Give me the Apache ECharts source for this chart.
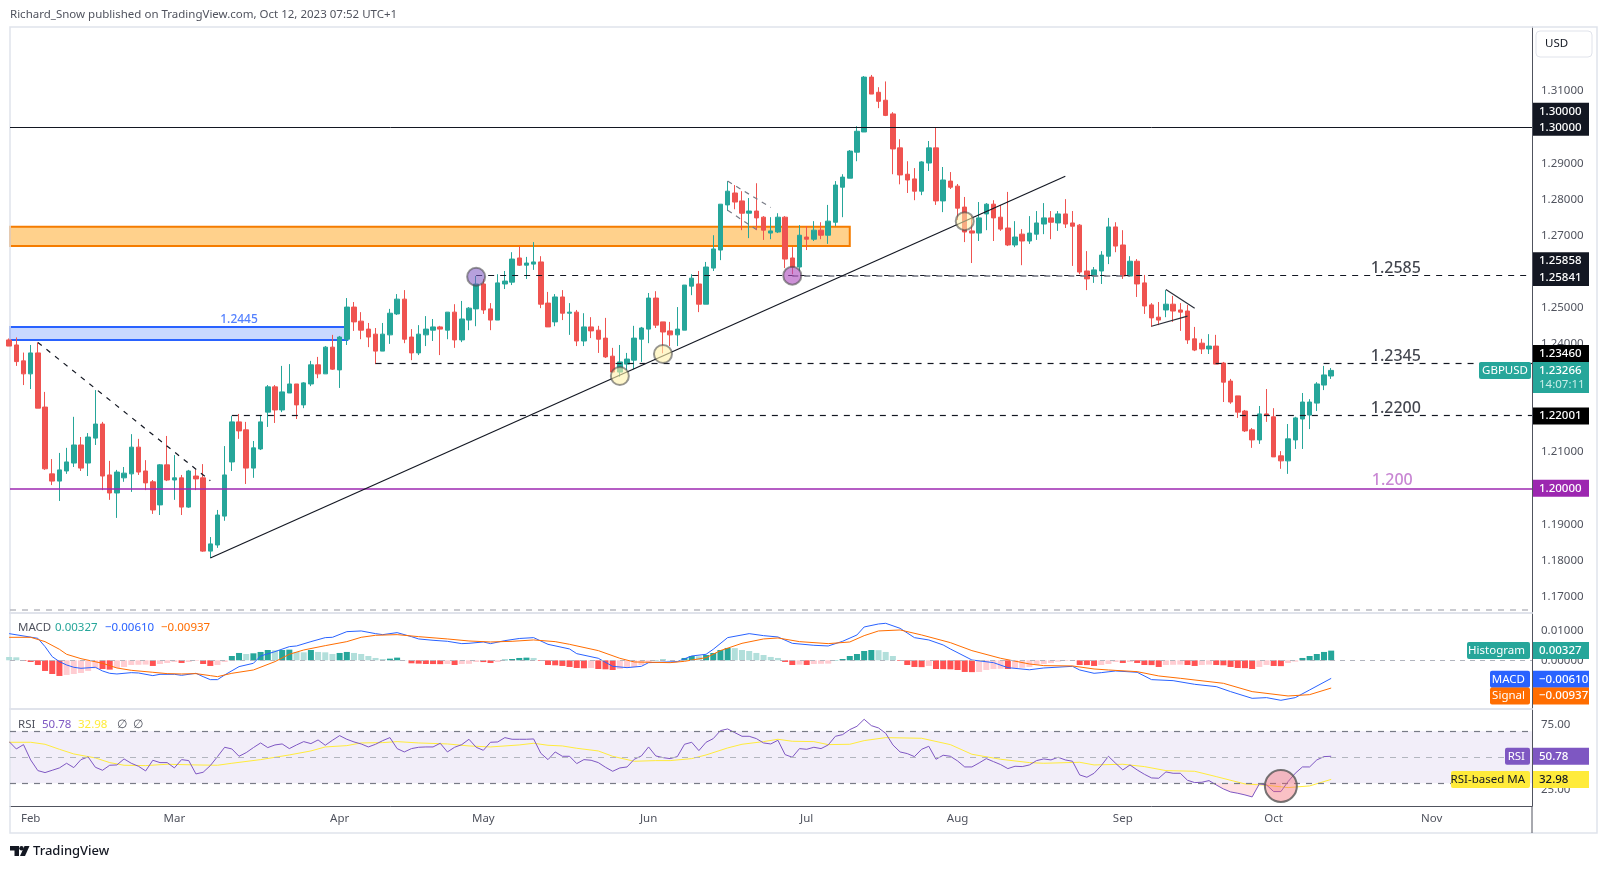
<!DOCTYPE html>
<html>
<head>
<meta charset="utf-8">
<title>GBPUSD</title>
<script src="https://cdn.jsdelivr.net/npm/echarts@6/dist/echarts.min.js"></script>
<style>
    html, body { margin: 0; padding: 0; background: #fff; }
    #chart { width: 1608px; height: 869px; }
</style>
</head>
<body>
<div id="chart"></div>
<script>
// ---- candles, bar 0 is the one cut off by the left edge ----
const opens = [1.2411,
    1.2397,1.2353,1.2317,1.2375,1.2225,1.2040,1.2020,1.2048,1.2070,1.2120,
    1.2070,1.2139,1.2178,1.2037,1.1987,1.2029,1.2040,1.2114,1.2048,1.2018,
    1.1954,1.2065,1.2023,1.2029,1.1948,1.2034,1.2029,1.1826,1.1843,1.1923,
    1.2073,1.2184,1.2162,1.2056,1.2109,1.2211,1.2281,1.2217,1.2264,1.2289,
    1.2231,1.2289,1.2342,1.2317,1.2391,1.2328,1.2413,1.2502,1.2463,1.2441,
    1.2427,1.2380,1.2425,1.2483,1.2524,1.2419,1.2375,1.2425,1.2438,1.2447,
    1.2438,1.2488,1.2411,1.2466,1.2497,1.2566,1.2497,1.2466,1.2566,1.2571,
    1.2638,1.2618,1.2621,1.2627,1.2513,1.2461,1.2530,1.2485,1.2488,1.2408,
    1.2447,1.2438,1.2416,1.2366,1.2322,1.2344,1.2355,1.2413,1.2441,1.2527,
    1.2461,1.2436,1.2425,1.2438,1.2560,1.2566,1.2510,1.2610,1.2660,1.2785,
    1.2818,1.2796,1.2762,1.2768,1.2751,1.2707,1.2710,1.2751,1.2638,1.2613,
    1.2696,1.2690,1.2715,1.2701,1.2737,1.2834,1.2859,1.2931,1.2987,1.3139,
    1.3097,1.3075,1.3037,1.2943,1.2870,1.2857,1.2823,1.2901,1.2943,1.2796,
    1.2851,1.2837,1.2779,1.2713,1.2707,1.2760,1.2787,1.2751,1.2721,1.2674,
    1.2704,1.2685,1.2704,1.2732,1.2749,1.2735,1.2760,1.2735,1.2729,1.2602,
    1.2588,1.2602,1.2643,1.2724,1.2674,1.2588,1.2629,1.2569,1.2508,1.2474,
    1.2494,1.2510,1.2494,1.2491,1.2414,1.2402,1.2386,1.2394,1.2347,1.2297,
    1.2256,1.2214,1.2162,1.2134,1.2206,1.2198,1.2090,1.2076,1.2134,1.2192,
    1.2203,1.2236,1.2286,1.2311];
const closes = [1.2394,
    1.2351,1.2317,1.2375,1.2222,1.2054,1.2020,1.2051,1.2073,1.2120,1.2056,
    1.2142,1.2178,1.2034,1.1987,1.2045,1.2042,1.2114,1.2045,1.2015,1.1940,
    1.2065,1.2023,1.2029,1.1948,1.2048,1.2026,1.1826,1.1846,1.1926,1.2037,
    1.2184,1.2159,1.2056,1.2112,1.2184,1.2281,1.2217,1.2267,1.2289,1.2231,
    1.2292,1.2342,1.2317,1.2391,1.2330,1.2419,1.2502,1.2461,1.2438,1.2419,
    1.2380,1.2427,1.2485,1.2524,1.2413,1.2375,1.2427,1.2441,1.2447,1.2441,
    1.2488,1.2411,1.2469,1.2499,1.2566,1.2494,1.2466,1.2569,1.2574,1.2635,
    1.2618,1.2624,1.2627,1.2510,1.2447,1.2530,1.2485,1.2488,1.2408,1.2447,
    1.2436,1.2413,1.2364,1.2322,1.2350,1.2358,1.2416,1.2444,1.2527,1.2452,
    1.2433,1.2425,1.2441,1.2563,1.2582,1.2510,1.2613,1.2663,1.2787,1.2823,
    1.2793,1.2762,1.2768,1.2749,1.2715,1.2713,1.2751,1.2635,1.2613,1.2701,
    1.2690,1.2715,1.2701,1.2740,1.2840,1.2862,1.2934,1.2989,1.3139,1.3092,
    1.3072,1.3033,1.2940,1.2868,1.2854,1.2823,1.2904,1.2943,1.2796,1.2854,
    1.2834,1.2776,1.2710,1.2707,1.2749,1.2787,1.2749,1.2718,1.2674,1.2696,
    1.2685,1.2707,1.2735,1.2749,1.2737,1.2760,1.2732,1.2726,1.2599,1.2580,
    1.2605,1.2646,1.2724,1.2671,1.2588,1.2629,1.2566,1.2505,1.2472,1.2466,
    1.2510,1.2491,1.2488,1.2411,1.2383,1.2386,1.2394,1.2344,1.2294,1.2239,
    1.2211,1.2159,1.2134,1.2206,1.2203,1.2087,1.2076,1.2137,1.2195,1.2239,
    1.2239,1.2289,1.2314,1.23266];
const highs = [1.2415,
    1.2418,1.2376,1.2397,1.2404,1.2267,1.2081,1.2098,1.2112,1.2198,1.2142,
    1.2153,1.2272,1.2184,1.2076,1.2051,1.2059,1.2150,1.2137,1.2078,1.2023,
    1.2067,1.2145,1.2092,1.2037,1.2051,1.2051,1.2067,1.1865,1.1940,1.2117,
    1.2200,1.2206,1.2184,1.2131,1.2203,1.2286,1.2286,1.2339,1.2344,1.2289,
    1.2294,1.2353,1.2364,1.2394,1.2425,1.2422,1.2527,1.2516,1.2488,1.2458,
    1.2444,1.2458,1.2497,1.2538,1.2549,1.2441,1.2452,1.2477,1.2469,1.2450,
    1.2488,1.2510,1.2519,1.2502,1.2588,1.2580,1.2513,1.2593,1.2602,1.2654,
    1.2671,1.2641,1.2682,1.2643,1.2544,1.2538,1.2549,1.2513,1.2494,1.2485,
    1.2474,1.2450,1.2472,1.2389,1.2397,1.2375,1.2450,1.2447,1.2541,1.2546,
    1.2461,1.2461,1.2502,1.2563,1.2593,1.2602,1.2627,1.2701,1.2787,1.2851,
    1.2840,1.2823,1.2804,1.2845,1.2754,1.2751,1.2762,1.2754,1.2668,1.2729,
    1.2726,1.2740,1.2737,1.2785,1.2851,1.2870,1.2937,1.3003,1.3142,1.3145,
    1.3111,1.3127,1.3042,1.2967,1.2906,1.2887,1.2906,1.2962,1.2998,1.2890,
    1.2876,1.2843,1.2807,1.2754,1.2793,1.2790,1.2798,1.2785,1.2821,1.2740,
    1.2718,1.2754,1.2768,1.2790,1.2768,1.2768,1.2801,1.2768,1.2732,1.2657,
    1.2613,1.2657,1.2749,1.2737,1.2715,1.2643,1.2635,1.2591,1.2513,1.2516,
    1.2549,1.2533,1.2513,1.2508,1.2447,1.2414,1.2427,1.2425,1.2350,1.2303,
    1.2256,1.2217,1.2167,1.2228,1.2275,1.2222,1.2103,1.2178,1.2198,1.2264,
    1.2247,1.2294,1.2339,1.2333];
const lows = [1.2394,
    1.2339,1.2286,1.2275,1.2222,1.2051,1.2009,1.1965,1.2040,1.2059,1.2048,
    1.2034,1.2120,1.1995,1.1968,1.1918,1.2018,1.1990,1.2037,1.1995,1.1929,
    1.1926,1.2020,1.1968,1.1926,1.1946,1.1995,1.1824,1.1807,1.1835,1.1910,
    1.2048,1.2137,1.2012,1.2029,1.2106,1.2170,1.2181,1.2211,1.2264,1.2192,
    1.2222,1.2283,1.2305,1.2317,1.2328,1.2278,1.2397,1.2436,1.2413,1.2391,
    1.2344,1.2380,1.2400,1.2480,1.2402,1.2355,1.2369,1.2394,1.2408,1.2369,
    1.2413,1.2389,1.2405,1.2438,1.2449,1.2483,1.2438,1.2466,1.2552,1.2563,
    1.2616,1.2580,1.2605,1.2499,1.2447,1.2449,1.2466,1.2425,1.2394,1.2394,
    1.2416,1.2375,1.2361,1.2322,1.2309,1.2328,1.2330,1.2350,1.2402,1.2444,
    1.2374,1.2394,1.2394,1.2438,1.2535,1.2488,1.2510,1.2602,1.2632,1.2768,
    1.2773,1.2715,1.2693,1.2715,1.2688,1.2690,1.2707,1.2610,1.2593,1.2602,
    1.2660,1.2685,1.2690,1.2677,1.2726,1.2751,1.2859,1.2906,1.2987,1.3092,
    1.3053,1.3031,1.2870,1.2842,1.2818,1.2798,1.2812,1.2879,1.2785,1.2765,
    1.2829,1.2743,1.2682,1.2624,1.2685,1.2715,1.2685,1.2713,1.2671,1.2668,
    1.2618,1.2677,1.2688,1.2704,1.2690,1.2713,1.2721,1.2616,1.2593,1.2549,
    1.2569,1.2566,1.2621,1.2654,1.2580,1.2588,1.2530,1.2483,1.2447,1.2452,
    1.2474,1.2461,1.2436,1.2400,1.2380,1.2372,1.2372,1.2344,1.2239,1.2234,
    1.2195,1.2156,1.2112,1.2123,1.2184,1.2087,1.2054,1.2040,1.2109,1.2109,
    1.2164,1.2214,1.2272,1.2303];

// ---- MACD pane ----
const histogram = [0.00111,0.00101,
    -0.00023,-0.00056,-0.00158,-0.00360,-0.00462,-0.00529,-0.00495,-0.00462,-0.00428,
    -0.00360,-0.00270,-0.00293,-0.00315,-0.00259,-0.00225,-0.00158,-0.00152,-0.00146,-0.00191,
    -0.00124,-0.00090,-0.00056,-0.00090,-0.00056,-0.00023,-0.00124,-0.00191,-0.00158,-0.00056,
    0.00146,0.00248,0.00214,0.00236,0.00282,0.00349,0.00338,0.00349,0.00360,0.00282,
    0.00270,0.00349,0.00282,0.00270,0.00214,0.00248,0.00282,0.00248,0.00214,0.00146,
    0.00079,0.00045,0.00056,0.00090,0.00011,-0.00101,-0.00113,-0.00124,-0.00127,-0.00130,
    -0.00124,-0.00158,-0.00124,-0.00120,-0.00056,-0.00060,-0.00090,-0.00056,0.00023,0.00045,
    0.00079,0.00090,0.00079,-0.00023,-0.00158,-0.00169,-0.00191,-0.00225,-0.00259,-0.00270,
    -0.00259,-0.00293,-0.00304,-0.00327,-0.00293,-0.00259,-0.00225,-0.00158,-0.00090,0.00011,
    0.00023,0.00011,0.00005,0.00079,0.00146,0.00135,0.00180,0.00248,0.00349,0.00417,
    0.00411,0.00349,0.00315,0.00248,0.00180,0.00113,0.00079,-0.00056,-0.00158,-0.00146,
    -0.00158,-0.00124,-0.00118,-0.00113,0.00011,0.00045,0.00146,0.00214,0.00315,0.00349,
    0.00343,0.00282,0.00146,-0.00023,-0.00158,-0.00225,-0.00231,-0.00191,-0.00293,-0.00298,
    -0.00304,-0.00327,-0.00394,-0.00400,-0.00394,-0.00327,-0.00293,-0.00287,-0.00293,-0.00259,
    -0.00253,-0.00225,-0.00146,-0.00124,-0.00090,-0.00045,-0.00023,-0.00020,-0.00158,-0.00162,
    -0.00191,-0.00158,-0.00124,-0.00056,-0.00090,-0.00056,-0.00090,-0.00158,-0.00162,-0.00225,
    -0.00158,-0.00152,-0.00146,-0.00158,-0.00191,-0.00158,-0.00146,-0.00158,-0.00169,-0.00225,
    -0.00259,-0.00265,-0.00293,-0.00225,-0.00158,-0.00191,-0.00197,-0.00090,-0.00045,0.00079,
    0.00146,0.00214,0.00282,0.00327];

const macdBars = [0,4,5,6,7,8,9,10,12,13,14,15,17,18,20,21,23,24,26,27,28,29,30,32,34,35,37,39,40,42,44,45,47,49,51,52,54,56,57,59,61,63,64,66,67,69,71,73,75,78,79,82,84,86,88,89,93,95,97,98,100,103,105,107,109,112,114,116,118,119,121,122,124,126,128,130,131,134,137,139,142,144,148,149,151,152,154,157,159,162,165,168,170,173,175,177,179,181,184];
const macdValues = [0.00901,0.00743,0.00462,0.00124,-0.00045,-0.00158,-0.00236,-0.00270,-0.00236,-0.00360,-0.00439,-0.00462,-0.00417,-0.00428,-0.00518,-0.00473,-0.00473,-0.00507,-0.00439,-0.00552,-0.00653,-0.00653,-0.00495,-0.00214,-0.00101,0.00146,0.00293,0.00462,0.00484,0.00631,0.00766,0.00777,0.00968,0.00991,0.00901,0.00867,0.00935,0.00799,0.00721,0.00676,0.00642,0.00563,0.00574,0.00619,0.00563,0.00664,0.00737,0.00766,0.00540,0.00383,0.00225,0.00068,-0.00203,-0.00248,-0.00203,-0.00079,-0.00045,0.00146,0.00203,0.00372,0.00766,0.00901,0.00833,0.00788,0.00574,0.00507,0.00484,0.00642,0.00856,0.01126,0.01227,0.01250,0.01081,0.00766,0.00687,0.00518,0.00383,0.00011,-0.00079,-0.00248,-0.00320,-0.00259,-0.00203,-0.00327,-0.00439,-0.00417,-0.00360,-0.00405,-0.00653,-0.00687,-0.00811,-0.00890,-0.01058,-0.01284,-0.01261,-0.01351,-0.01261,-0.01002,-0.00610];
const signalBars = [0,3,5,7,8,10,13,15,17,20,22,24,26,28,29,31,34,37,39,41,44,47,49,51,54,57,61,64,67,70,73,76,78,82,85,87,92,94,97,99,102,105,107,110,114,117,119,121,124,127,131,134,138,142,144,148,151,153,157,160,163,169,173,178,181,184];
const signalValues = [0.00777,0.00777,0.00631,0.00372,0.00203,0.00056,-0.00101,-0.00259,-0.00338,-0.00405,-0.00450,-0.00462,-0.00450,-0.00518,-0.00552,-0.00439,-0.00327,-0.00045,0.00203,0.00349,0.00495,0.00631,0.00777,0.00845,0.00867,0.00799,0.00721,0.00653,0.00619,0.00642,0.00687,0.00631,0.00540,0.00327,0.00068,-0.00056,-0.00079,-0.00034,0.00090,0.00327,0.00574,0.00721,0.00754,0.00631,0.00563,0.00619,0.00833,0.00991,0.01025,0.00856,0.00597,0.00327,0.00068,-0.00124,-0.00180,-0.00191,-0.00293,-0.00327,-0.00383,-0.00529,-0.00608,-0.00777,-0.01058,-0.01205,-0.01160,-0.00937];

// ---- RSI pane ----
const rsiValues = [62.05,56.41,59.74,47.95,39.74,38.21,40.0,41.8,45.38,42.05,48.2,50.26,42.31,40.0,43.85,44.1,48.72,45.38,43.08,39.49,47.69,45.9,45.9,41.8,48.2,47.44,37.18,38.46,43.59,50.51,57.69,56.41,50.77,53.59,57.44,61.03,57.44,59.49,60.26,56.67,59.49,62.05,60.51,63.33,59.23,63.08,66.67,63.85,61.79,60.26,57.95,60.0,62.82,65.13,56.67,54.1,56.67,57.69,57.95,57.95,60.77,54.1,57.69,59.74,63.85,57.69,55.38,61.54,61.79,65.13,63.85,
    63.85,63.85,64.1,53.08,48.2,54.1,50.77,50.77,45.13,48.2,47.69,45.9,42.31,39.23,41.8,42.56,48.46,51.03,57.95,51.03,49.74,48.97,50.51,60.0,61.54,55.13,61.54,64.36,70.51,71.79,68.97,66.15,66.15,64.36,61.03,60.26,63.08,52.05,50.0,56.67,56.15,57.69,56.67,59.49,66.15,67.44,71.28,73.85,79.23,74.36,72.56,68.46,59.49,54.1,52.82,50.51,56.15,58.46,48.46,51.54,50.77,47.18,42.56,42.56,45.64,48.97,46.67,44.36,41.28,43.08,42.82,44.1,
    47.44,48.72,47.95,50.0,47.95,46.92,36.41,34.62,37.69,43.59,50.77,45.38,40.26,44.1,40.26,36.92,34.1,33.85,38.72,37.69,37.69,32.31,30.51,30.77,32.05,28.72,25.64,23.33,22.31,21.03,19.49,29.49,28.72,23.59,23.59,31.28,37.69,42.56,42.56,47.95,50.51,50.78];
const rsiMaBars = [0,3,5,7,9,12,14,16,19,22,26,29,31,35,39,42,44,47,49,52,54,57,61,64,67,71,73,75,77,79,82,84,87,90,92,95,97,100,102,105,107,109,112,114,117,119,122,127,131,134,138,142,144,149,151,155,158,161,165,168,172,175,178,181,184];
const rsiMaValues = [61.54,61.54,60,56.15,52.56,49.49,45.9,43.85,43.59,44.62,44.1,43.85,45.38,48.2,51.79,54.87,57.95,58.97,61.03,61.28,62.05,61.03,60.26,58.72,57.95,59.49,60.77,59.23,58.72,56.92,54.87,50.77,46.92,47.44,47.44,48.97,51.79,57.18,60,62.05,63.85,62.31,62.05,59.74,60,62.82,65.13,64.62,59.74,52.31,48.46,45.9,45.38,46.15,44.1,44.62,42.82,39.74,39.23,35.13,29.49,28.46,26.67,27.95,32.98];

// ---- axes ----
const monthBars = [3,23,46,66,89,111,132,155,176,198];
const monthNames = ['Feb','Mar','Apr','May','Jun','Jul','Aug','Sep','Oct','Nov'];
const priceTicks = [1.17,1.18,1.19,1.20,1.21,1.22,1.23,1.24,1.25,1.26,1.27,1.28,1.29,1.30,1.31];
const macdTicks = [0, 0.01];
const rsiTicks = [25, 75];

// ---- drawn on the chart: [bar, price] ----
const trendUp = [[28, 1.18069], [147, 1.28643]];
const trendDown = [[4, 1.2404], [28, 1.2021]];
const flagUpper = [[100, 1.2851], [106, 1.2778]];
const flagLower = [[100, 1.2770], [104, 1.2717]];
const pennantUpper = [[161, 1.2551], [165, 1.2499]];
const pennantLower = [[159, 1.2449], [164, 1.2477]];
const level2585 = [[65, 1.2589]];
const level2345 = [[51, 1.2346]];
const level2200 = [[31, 1.2202]];
const level2585Shade = [[109, 1.2589], [156, 1.2589]];
const level13000 = 1.29994;
const dottedFloor = 1.16637;
const orangeZone = [[0, 1.27247], [117, 1.26712]];
const blueZone = [[0, 1.24468], [47.07, 1.24108]];
const priceNotes = [
    { text: '1.2585', bar: 193, price: 1.2608, color: '#131722', size: 16 },
    { text: '1.2345', bar: 193, price: 1.2364, color: '#131722', size: 16 },
    { text: '1.2200', bar: 193, price: 1.2222, color: '#131722', size: 16 },
    { text: '1.200', bar: 192.5, price: 1.2023, color: '#ba68c8', size: 16 },
    { text: '1.2445', bar: 32, price: 1.2467, color: '#2962ff', size: 12 },
];
const priceCircles = [
    { bar: 65, price: 1.2586, color: 'rgba(126,87,194,0.7)' },
    { bar: 109, price: 1.2589, color: 'rgba(171,71,188,0.75)' },
    { bar: 85, price: 1.2311, color: 'rgba(255,241,170,0.75)' },
    { bar: 91, price: 1.2372, color: 'rgba(255,241,170,0.75)' },
    { bar: 133, price: 1.2740, color: 'rgba(255,241,170,0.7)' },
];
const rsiCircle = [177, 27.9];

// ---- right scale tags ----
const priceTags = [
    { value: 1.3, text: '1.30000', shift: -16, bg: '#131722' },
    { value: 1.3, text: '1.30000', shift: 0, bg: '#131722' },
    { value: 1.25858, text: '1.25858', shift: -16, bg: '#131722' },
    { value: 1.25841, text: '1.25841', shift: 0, bg: '#131722' },
    { value: 1.2346, text: '1.23460', shift: -10, bg: '#000000' },
    { value: 1.22001, text: '1.22001', shift: 0, bg: '#000000' },
    { value: 1.2, text: '1.20000', shift: 0, bg: '#9c27b0' },
];

const FONT = '"Noto Sans", sans-serif';
const SMALL = 11.5;
const GREEN = '#26a69a', RED = '#ef5350';
const AXIS_COLOR = '#50535e', FRAME = '#e0e3eb';
const plotLeft = 10, plotRight = 1532;
const xMin = 0.123, xMax = 211.95;

const pairs = (bars, vals) => bars.map((b, i) => [b, vals[i]]);
const indexed = vals => vals.map((v, i) => [i, v]);

function lineMark(from, to, color, width, type) {
    return [{ coord: from, lineStyle: { color, width, type } }, { coord: to }];
}

const hiddenX = gridIndex => ({
    type: 'value', gridIndex, min: xMin, max: xMax,
    splitLine: { show: false }, axisTick: { show: false }, axisLabel: { show: false },
    axisLine: { show: true, onZero: false, lineStyle: { color: FRAME, width: 2 } },
});

const rightY = (gridIndex, min, max, ticks, digits) => ({
    type: 'value', gridIndex, position: 'right', min, max, scale: true,
    splitLine: { show: false }, axisTick: { show: false },
    axisLine: { show: true, onZero: false, lineStyle: { color: AXIS_COLOR, width: 1 } },
    axisLabel: {
        customValues: ticks, margin: 9, color: '#50535e', fontFamily: FONT, fontSize: SMALL,
        formatter: v => v.toFixed(digits),
    },
});

const option = {
    animation: false,
    backgroundColor: '#fff',
    textStyle: { fontFamily: FONT },
    grid: [
        { left: plotLeft, width: plotRight - plotLeft, top: 27, height: 586 },
        { left: plotLeft, width: plotRight - plotLeft, top: 613, height: 96 },
        { left: plotLeft, width: plotRight - plotLeft, top: 709, height: 97 },
    ],
    xAxis: [hiddenX(0), hiddenX(1), {
        ...hiddenX(2),
        axisLine: { show: true, onZero: false, lineStyle: { color: AXIS_COLOR, width: 1 } },
        axisLabel: {
            show: true, customValues: monthBars, margin: 7, color: '#50535e', fontFamily: FONT, fontSize: SMALL,
            formatter: v => monthNames[monthBars.indexOf(v)] || '',
        },
    }],
    yAxis: [
        rightY(0, 1.16546, 1.32778, priceTicks, 5),
        rightY(1, -0.01645, 0.01598, macdTicks, 5),
        rightY(2, 12.5, 87.15, rsiTicks, 2),
    ],
    series: [
        {
            type: 'candlestick', xAxisIndex: 0, yAxisIndex: 0, barWidth: 5,
            data: opens.map((o, i) => [i, o, closes[i], lows[i], highs[i]]),
            itemStyle: { color: GREEN, color0: RED, borderColor: GREEN, borderColor0: RED, borderWidth: 1 },
            markArea: {
                silent: true,
                data: [
                    [{ coord: orangeZone[0], itemStyle: { color: 'rgba(255,152,0,0.45)', borderColor: '#f57c00', borderWidth: 2 } }, { coord: orangeZone[1] }],
                    [{ coord: blueZone[0], itemStyle: { color: 'rgba(41,98,255,0.25)', borderColor: '#2962ff', borderWidth: 2 } }, { coord: blueZone[1] }],
                ],
            },
        },
        {
            // levels and hand drawn lines
            type: 'line', xAxisIndex: 0, yAxisIndex: 0, data: [], z: 5,
            markLine: {
                silent: true, symbol: 'none', label: { show: false }, animation: false,
                data: [
                    lineMark([xMin, level13000], [xMax, level13000], '#131722', 1, 'solid'),
                    lineMark([xMin, 1.2], [xMax, 1.2], '#9c27b0', 1.5, 'solid'),
                    lineMark([xMin, dottedFloor], [xMax, dottedFloor], '#b9bbc1', 1.5, [6, 6]),
                    lineMark(level2585[0], [xMax, level2585[0][1]], '#131722', 1.2, [6, 6]),
                    lineMark(level2345[0], [xMax, level2345[0][1]], '#131722', 1.2, [6, 6]),
                    lineMark(level2200[0], [xMax, level2200[0][1]], '#131722', 1.2, [6, 6]),
                    lineMark(level2585Shade[0], level2585Shade[1], 'rgba(120,123,134,0.8)', 2, [6, 6]),
                    lineMark(trendUp[0], trendUp[1], '#131722', 1.2, 'solid'),
                    lineMark(trendDown[0], trendDown[1], '#131722', 1.2, [5, 6]),
                    lineMark(flagUpper[0], flagUpper[1], '#787b86', 1.2, [5, 5]),
                    lineMark(flagLower[0], flagLower[1], '#787b86', 1.2, [5, 5]),
                    lineMark(pennantUpper[0], pennantUpper[1], '#2a2e39', 1.2, 'solid'),
                    lineMark(pennantLower[0], pennantLower[1], '#2a2e39', 1.2, 'solid'),
                ],
            },
        },
        {
            type: 'scatter', xAxisIndex: 0, yAxisIndex: 0, symbolSize: 0, silent: true, z: 6,
            data: priceNotes.map(n => ({
                value: [n.bar, n.price],
                label: {
                    show: true, position: 'inside', formatter: n.text, color: n.color,
                    fontSize: n.size, fontFamily: FONT, fontWeight: 500,
                },
            })),
        },
        {
            type: 'scatter', xAxisIndex: 0, yAxisIndex: 0, symbolSize: 18, silent: true, z: 7,
            data: priceCircles.map(c => ({
                value: [c.bar, c.price],
                itemStyle: { color: c.color, borderColor: 'rgba(70,70,70,0.7)', borderWidth: 2 },
            })),
        },
        {
            type: 'bar', xAxisIndex: 1, yAxisIndex: 1, barWidth: 6, name: 'Histogram',
            data: indexed(histogram),
            itemStyle: {
                // same rule the indicator itself uses
                color: p => {
                    const v = histogram[p.dataIndex], prev = p.dataIndex ? histogram[p.dataIndex - 1] : v + 0.0001;
                    if (v >= 0) return v >= prev ? GREEN : '#b2dfdb';
                    return v < prev ? '#ff5252' : '#ffcdd2';
                },
            },
            markLine: {
                silent: true, symbol: 'none', label: { show: false },
                data: [lineMark([xMin, 0], [xMax, 0], '#b2b5be', 1, [5, 5])],
            },
        },
        {
            type: 'line', xAxisIndex: 1, yAxisIndex: 1, name: 'MACD', symbol: 'none', z: 3,
            data: pairs(macdBars, macdValues), lineStyle: { color: '#2962ff', width: 1 },
        },
        {
            type: 'line', xAxisIndex: 1, yAxisIndex: 1, name: 'Signal', symbol: 'none', z: 4,
            data: pairs(signalBars, signalValues), lineStyle: { color: '#ff6d00', width: 1 },
        },
        {
            // pink below the oversold level
            type: 'line', xAxisIndex: 2, yAxisIndex: 2, symbol: 'none', z: 2, silent: true,
            data: indexed(rsiValues).slice(167, 178).map(p => [p[0], Math.min(p[1], 30)]),
            lineStyle: { width: 0 },
            areaStyle: { origin: 30, color: 'rgba(255,120,130,0.3)' },
        },
        {
            type: 'line', xAxisIndex: 2, yAxisIndex: 2, name: 'RSI', symbol: 'none', z: 3,
            data: indexed(rsiValues), lineStyle: { color: '#7e57c2', width: 1 },
            markArea: {
                silent: true,
                data: [[{ coord: [xMin, 70], itemStyle: { color: 'rgba(126,87,194,0.1)' } }, { coord: [xMax, 30] }]],
            },
            markLine: {
                silent: true, symbol: 'none', label: { show: false },
                data: [
                    lineMark([xMin, 70], [xMax, 70], '#787b86', 1.2, [6, 6]),
                    lineMark([xMin, 50], [xMax, 50], '#b2b5be', 1, [6, 6]),
                    lineMark([xMin, 30], [xMax, 30], '#787b86', 1.2, [6, 6]),
                ],
            },
        },
        {
            type: 'line', xAxisIndex: 2, yAxisIndex: 2, name: 'RSI-based MA', symbol: 'none', z: 2,
            data: pairs(rsiMaBars, rsiMaValues), lineStyle: { color: '#ffeb3b', width: 1 },
        },
        {
            type: 'scatter', xAxisIndex: 2, yAxisIndex: 2, symbolSize: 32, silent: true, z: 6,
            data: [rsiCircle],
            itemStyle: { color: 'rgba(242,100,110,0.5)', borderColor: '#555', borderWidth: 2 },
        },
    ],
};

const chart = echarts.init(document.getElementById('chart'));
chart.setOption(option);

// ---- everything around the plot: tags, headers, frame, logo ----
const txt = (text, x, y, fill, size, align, weight) => ({
    type: 'text', z: 20,
    style: { text, x, y, fill, font: `${weight || 400} ${size}px ${FONT}`, textAlign: align || 'left', textVerticalAlign: 'middle' },
});
const box = (x, y, width, height, fill, r) => ({
    type: 'rect', z: 19, shape: { x, y, width, height, r: r || 0 }, style: { fill },
});

function rightTag(yc, text, bg, color) {
    return [box(plotRight + 1, yc - 8.5, 56, 17, bg), txt(text, plotRight + 7, yc, color, SMALL, 'left', 500)];
}
function sideTag(yc, name, value, bg, color, nameLeft) {
    return [
        box(nameLeft, yc - 8.5, plotRight - 2 - nameLeft, 17, bg, 2),
        txt(name, plotRight - 7, yc, color, SMALL, 'right', 400),
        ...rightTag(yc, value, bg, color),
    ];
}

const py = v => chart.convertToPixel({ yAxisIndex: 0 }, v);
const my = v => chart.convertToPixel({ yAxisIndex: 1 }, v);
const ry = v => chart.convertToPixel({ yAxisIndex: 2 }, v);

let extras = [
    txt('Richard_Snow published on TradingView.com, Oct 12, 2023 07:52 UTC+1', 10, 15, '#50535e', SMALL),
    { type: 'rect', z: 1, shape: { x: 10, y: 27, width: 1587, height: 806 }, style: { fill: 'none', stroke: FRAME, lineWidth: 1.5 } },
    { type: 'line', z: 2, shape: { x1: plotRight, y1: 806, x2: plotRight, y2: 833 }, style: { stroke: AXIS_COLOR, lineWidth: 1 } },
    { type: 'rect', z: 2, shape: { x: 1536, y: 31, width: 56, height: 26, r: 4 }, style: { fill: '#fff', stroke: FRAME, lineWidth: 1 } },
    txt('USD', 1545, 44, '#131722', SMALL),
    // GBPUSD price tag
    box(plotRight + 1, 362, 56, 31, GREEN),
    txt('1.23266', plotRight + 7, 370.5, '#fff', SMALL, 'left', 500),
    txt('14:07:11', plotRight + 7, 385, '#c8eee9', SMALL),
    box(1479, 362, 52, 17, GREEN, 2),
    txt('GBPUSD', 1505, 370.5, '#fff', SMALL, 'center'),
    // MACD header
    txt('MACD', 18, 628, '#50535e', SMALL),
    txt('0.00327', 55, 628, GREEN, SMALL),
    txt('\u22120.00610', 105, 628, '#2962ff', SMALL),
    txt('\u22120.00937', 161, 628, '#ff6d00', SMALL),
    // RSI header
    txt('RSI', 18, 725, '#50535e', SMALL),
    txt('50.78', 42, 725, '#7e57c2', SMALL),
    txt('32.98', 78, 725, '#ffeb3b', SMALL),
    txt('\u2205', 117, 725, '#50535e', SMALL),
    txt('\u2205', 133, 725, '#50535e', SMALL),
    // logo
    { type: 'polygon', z: 20, shape: { points: [[10, 846], [19, 846], [19, 856], [14.5, 856], [14.5, 850.5], [10, 850.5]] }, style: { fill: '#131722' } },
    { type: 'circle', z: 20, shape: { cx: 21.5, cy: 848.3, r: 2.2 }, style: { fill: '#131722' } },
    { type: 'polygon', z: 20, shape: { points: [[24.5, 846], [29.5, 846], [25, 856], [20, 856]] }, style: { fill: '#131722' } },
    txt('TradingView', 33, 851, '#131722', 13, 'left', 500),
];

priceTags.forEach(t => { extras = extras.concat(rightTag(py(t.value) + t.shift, t.text, t.bg, '#fff')); });
extras = extras.concat(
    sideTag(650.4, 'Histogram', '0.00327', GREEN, '#fff', 1467),
    sideTag(my(-0.0061) + 1, 'MACD', '\u22120.00610', '#2962ff', '#fff', 1490),
    sideTag(my(-0.00937) + 8, 'Signal', '\u22120.00937', '#ff6d00', '#fff', 1490),
    sideTag(ry(50.78), 'RSI', '50.78', '#7e57c2', '#fff', 1505),
    sideTag(ry(32.98), 'RSI-based MA', '32.98', '#ffeb3b', '#131722', 1451)
);

chart.setOption({ graphic: { elements: extras } });
</script>
</body>
</html>
